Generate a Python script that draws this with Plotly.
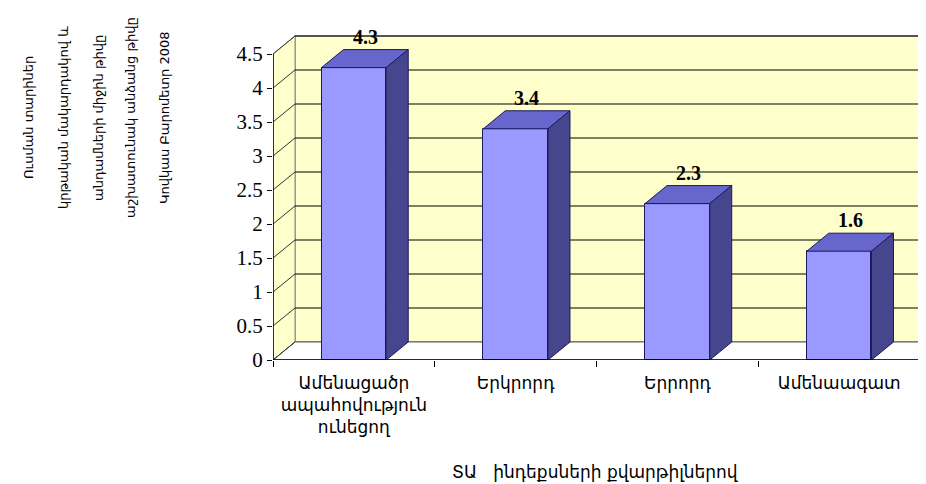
import plotly.graph_objects as go

# ---- data ----
categories = ["Ամենացածր<br>ապահովություն<br>ունեցող", "Երկրորդ", "Երրորդ", "Ամենաագատ"]
values = [4.3, 3.4, 2.3, 1.6]
value_labels = ["4.3", "3.4", "2.3", "1.6"]
y_tick_vals = [0, 0.5, 1, 1.5, 2, 2.5, 3, 3.5, 4, 4.5]
y_tick_text = ["0", "0.5", "1", "1.5", "2", "2.5", "3", "3.5", "4", "4.5"]
x_title = "ՏԱ   ինդեքսների քվարթիլներով"
y_title_lines = [
    "Ուսման տարիներ",
    "կրթական մակարդակով և",
    "անդամների միջին թիվը",
    "աշխատունակ անձանց թիվը",
    "Կովկաս Բարոմետր 2008",
]

# ---- geometry (axis units) ----
n = len(categories)
ymax = y_tick_vals[-1]
dx, dy = 0.136, 0.265          # 3D depth offset
bw = 0.4                        # bar width
centers = [i + 0.5 for i in range(n)]

W, H = 926, 484
L, B, T = 265, 132, 22
PW, PH = W - L, H - B - T


def px_to_paper(px, py):
    return (px - L) / PW, (H - B - py) / PH


WALL = "#FFFFCC"
WALL_EDGE = "#8C8C8C"
FRONT = "#9999FF"
TOP = "#6666CC"
SIDE = "#46468F"
EDGE = "#1A1A5C"

shapes = []
shapes.append(dict(type="rect", xref="x", yref="y", x0=dx, x1=n + dx, y0=dy, y1=ymax + dy,
                   fillcolor=WALL, line=dict(color=WALL_EDGE, width=1.5), layer="below"))
shapes.append(dict(type="path", xref="x", yref="y",
                   path=f"M 0 0 L 0 {ymax} L {dx} {ymax+dy} L {dx} {dy} Z",
                   fillcolor=WALL, line=dict(color=WALL_EDGE, width=1), layer="below"))
shapes.append(dict(type="path", xref="x", yref="y",
                   path=f"M 0 0 L {n} 0 L {n+dx} {dy} L {dx} {dy} Z",
                   fillcolor="#FFFFFF", line=dict(color="#555555", width=1), layer="below"))
for v in y_tick_vals[1:]:
    shapes.append(dict(type="line", xref="x", yref="y", x0=dx, x1=n + dx, y0=v + dy, y1=v + dy,
                       line=dict(color="#000000", width=1.2), layer="below"))
for v in y_tick_vals:
    shapes.append(dict(type="line", xref="x", yref="y", x0=0, x1=dx, y0=v, y1=v + dy,
                       line=dict(color="#333333", width=1), layer="below"))
shapes.append(dict(type="line", xref="x", yref="y", x0=0, x1=0, y0=0, y1=ymax,
                   line=dict(color="#000000", width=1.5)))
shapes.append(dict(type="line", xref="x", yref="y", x0=0, x1=n, y0=0, y1=0,
                   line=dict(color="#000000", width=1.5)))

fig = go.Figure()
fig.add_trace(go.Bar(x=centers, y=values, width=bw, marker=dict(color=FRONT, line=dict(color=EDGE, width=1)),
                     hoverinfo="skip", showlegend=False))
for c, v in zip(centers, values):
    l, r = c - bw / 2, c + bw / 2
    fig.add_trace(go.Scatter(x=[l, l + dx, r + dx, r, l], y=[v, v + dy, v + dy, v, v], mode="lines",
                             fill="toself", fillcolor=TOP, line=dict(color=EDGE, width=1),
                             hoverinfo="skip", showlegend=False))
    fig.add_trace(go.Scatter(x=[r, r + dx, r + dx, r, r], y=[0, dy, v + dy, v, 0], mode="lines",
                             fill="toself", fillcolor=SIDE, line=dict(color=EDGE, width=1),
                             hoverinfo="skip", showlegend=False))

annotations = []
for c, v, t in zip(centers, values, value_labels):
    annotations.append(dict(x=c + 0.07, y=v + dy, xref="x", yref="y", text=f"<b>{t}</b>", showarrow=False,
                            yanchor="bottom", yshift=0,
                            font=dict(family="Liberation Serif", size=20, color="#000000")))
tx, ty = px_to_paper(587, 464)
annotations.append(dict(x=tx, y=ty, xref="paper", yref="paper", text=x_title, showarrow=False,
                        xanchor="center", yanchor="middle",
                        font=dict(family="DejaVu Sans", size=17, color="#000000")))
col_x = [20, 55, 90, 122, 156]
for xx, t in zip(col_x, y_title_lines):
    ax, ay = px_to_paper(xx, 110)
    annotations.append(dict(x=ax, y=ay, xref="paper", yref="paper", text=t, showarrow=False,
                            textangle=-90, xanchor="center", yanchor="middle",
                            font=dict(family="DejaVu Sans", size=13, color="#000000")))

pxu_x = (912 - 265) / n
pxu_y = 68
fig.update_layout(
    width=W, height=H,
    margin=dict(l=L, r=0, t=T, b=B, pad=0),
    paper_bgcolor="white", plot_bgcolor="white",
    shapes=shapes, annotations=annotations,
    xaxis=dict(range=[0, PW / pxu_x], tickmode="array", tickvals=centers, ticktext=categories,
               ticks="", showgrid=False, zeroline=False, showline=False,
               tickfont=dict(family="DejaVu Sans", size=17, color="#000000"),
               minor=dict(tickmode="array", tickvals=list(range(n + 1)), ticks="outside", ticklen=6,
                          tickcolor="#000000", showgrid=False),
               ticklabelstandoff=11),
    yaxis=dict(range=[0, PH / pxu_y], tickmode="array", tickvals=y_tick_vals, ticktext=y_tick_text,
               ticks="outside", ticklen=5, tickcolor="#000000", showgrid=False, zeroline=False, showline=False,
               tickfont=dict(family="Liberation Serif", size=21, color="#000000")),
    bargap=0,
)
fig.write_html("out.html")
